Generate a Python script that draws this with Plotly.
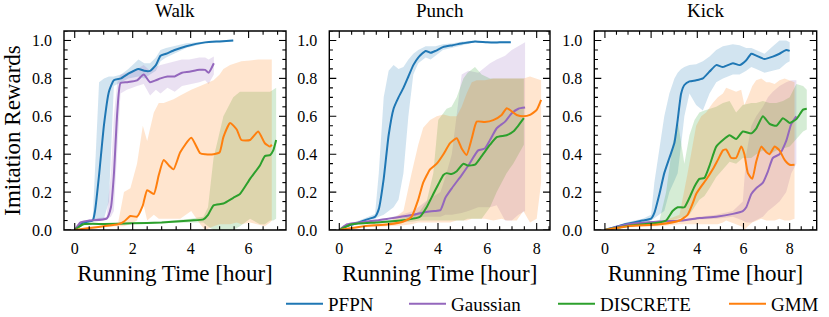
import plotly.graph_objects as go

# ---------------- DATA ----------------
panels = ["Walk", "Punch", "Kick"]
methods = ["PFPN", "Gaussian", "DISCRETE", "GMM"]
colors = {"PFPN": "31,119,180", "Gaussian": "148,103,189", "DISCRETE": "44,160,44", "GMM": "255,127,14"}

# Walk
walk_pfpn_x = [0, 0.3, 0.62, 0.7, 0.84, 1.01, 1.18, 1.35, 1.6, 1.85, 2.2, 2.4, 2.6, 2.8, 2.96, 3.15, 3.45, 3.85, 4.5, 5.0, 5.47]
walk_pfpn_y = [0, 0.04, 0.05, 0.1, 0.29, 0.555, 0.73, 0.79, 0.80, 0.825, 0.85, 0.84, 0.84, 0.87, 0.92, 0.93, 0.95, 0.97, 0.99, 0.995, 1.0]
walk_pfpn_lo = [0, 0.035, 0.045, 0.05, 0.05, 0.06, 0.15, 0.76, 0.78, 0.80, 0.81, 0.80, 0.82, 0.84, 0.89, 0.91, 0.93, 0.96, 0.985, 0.99, 0.995]
walk_pfpn_hi = [0, 0.045, 0.055, 0.35, 0.78, 0.80, 0.81, 0.81, 0.82, 0.85, 0.90, 0.88, 0.88, 0.91, 0.95, 0.96, 0.97, 0.985, 0.995, 1.0, 1.005]

walk_gauss_x = [0, 0.2, 0.5, 1.1, 1.25, 1.35, 1.47, 1.58, 1.8, 2.15, 2.38, 2.6, 2.8, 2.96, 3.2, 3.45, 3.7, 3.95, 4.3, 4.5, 4.62, 4.8]
walk_gauss_y = [0, 0.04, 0.05, 0.06, 0.12, 0.29, 0.625, 0.775, 0.78, 0.79, 0.82, 0.78, 0.79, 0.80, 0.81, 0.81, 0.83, 0.835, 0.845, 0.845, 0.83, 0.88]
walk_gauss_lo = [0, 0.035, 0.045, 0.055, 0.07, 0.1, 0.4, 0.72, 0.74, 0.76, 0.77, 0.71, 0.74, 0.72, 0.75, 0.73, 0.76, 0.77, 0.78, 0.79, 0.77, 0.82]
walk_gauss_hi = [0, 0.045, 0.055, 0.07, 0.3, 0.6, 0.78, 0.82, 0.83, 0.85, 0.87, 0.84, 0.86, 0.87, 0.88, 0.89, 0.90, 0.90, 0.91, 0.91, 0.90, 0.915]

walk_disc_x = [0, 0.3, 1.0, 2.0, 3.0, 4.0, 4.44, 4.6, 4.79, 5.13, 5.47, 5.7, 6.05, 6.39, 6.56, 6.74, 6.85, 6.95]
walk_disc_y = [0, 0.03, 0.032, 0.035, 0.04, 0.05, 0.056, 0.08, 0.13, 0.14, 0.17, 0.19, 0.27, 0.34, 0.39, 0.395, 0.42, 0.475]
walk_disc_lo = [0, 0.025, 0.028, 0.03, 0.035, 0.04, 0.04, 0.02, 0.0, 0.0, 0.0, 0.02, 0.06, 0.03, 0.03, 0.05, 0.05, 0.06]
walk_disc_hi = [0, 0.035, 0.036, 0.04, 0.045, 0.06, 0.07, 0.12, 0.38, 0.6, 0.7, 0.73, 0.73, 0.73, 0.73, 0.73, 0.74, 0.75]

walk_gmm_x = [0, 0.5, 1.0, 1.5, 1.7, 1.92, 2.15, 2.35, 2.5, 2.73, 2.9, 3.07, 3.25, 3.41, 3.64, 4.02, 4.33, 4.5, 4.79, 5.0, 5.13, 5.36, 5.59, 5.75, 6.05, 6.33, 6.56, 6.74, 6.8]
walk_gmm_y = [0, 0.01, 0.02, 0.03, 0.044, 0.074, 0.07, 0.13, 0.21, 0.19, 0.29, 0.37, 0.34, 0.32, 0.41, 0.487, 0.405, 0.40, 0.40, 0.41, 0.49, 0.565, 0.53, 0.475, 0.475, 0.52, 0.458, 0.44, 0.45]
walk_gmm_lo = [0, 0.005, 0.015, 0.02, 0.02, 0.03, 0.05, 0.15, 0.05, 0.08, 0.06, 0.06, 0.06, 0.06, 0.06, 0.1, 0.03, 0.0, 0.02, 0.03, 0.03, 0.03, 0.04, 0.03, 0.04, 0.03, 0.02, 0.04, 0.05]
walk_gmm_hi = [0, 0.015, 0.025, 0.04, 0.2, 0.22, 0.35, 0.55, 0.47, 0.62, 0.67, 0.67, 0.68, 0.69, 0.71, 0.74, 0.76, 0.77, 0.79, 0.82, 0.85, 0.87, 0.88, 0.89, 0.895, 0.9, 0.9, 0.9, 0.9]

# Punch
punch_pfpn_x = [0, 0.3, 0.7, 1.1, 1.45, 1.6, 1.8, 2.0, 2.2, 2.4, 2.6, 2.8, 3.0, 3.2, 3.5, 3.7, 3.9, 4.2, 4.6, 5.0, 5.5, 6.0, 6.5, 6.95]
punch_pfpn_y = [0, 0.02, 0.035, 0.055, 0.07, 0.11, 0.27, 0.50, 0.64, 0.70, 0.75, 0.81, 0.87, 0.91, 0.945, 0.935, 0.945, 0.965, 0.975, 0.985, 0.995, 0.99, 0.99, 0.99]
punch_pfpn_lo = [0, 0.015, 0.03, 0.05, 0.06, 0.07, 0.08, 0.10, 0.12, 0.16, 0.30, 0.60, 0.82, 0.88, 0.91, 0.90, 0.92, 0.95, 0.965, 0.975, 0.99, 0.985, 0.985, 0.985]
punch_pfpn_hi = [0, 0.025, 0.045, 0.065, 0.085, 0.30, 0.70, 0.84, 0.87, 0.85, 0.86, 0.90, 0.93, 0.95, 0.97, 0.97, 0.97, 0.98, 0.985, 0.995, 1.0, 0.995, 0.995, 0.995]

punch_gauss_x = [0, 0.3, 0.8, 1.5, 2.0, 2.5, 3.0, 3.5, 3.85, 4.1, 4.3, 4.56, 4.96, 5.23, 5.63, 5.9, 6.11, 6.38, 6.72, 6.99, 7.26, 7.53]
punch_gauss_y = [0, 0.03, 0.04, 0.05, 0.06, 0.07, 0.08, 0.095, 0.10, 0.105, 0.17, 0.22, 0.29, 0.34, 0.42, 0.43, 0.475, 0.537, 0.572, 0.616, 0.64, 0.646]
punch_gauss_lo = [0, 0.025, 0.035, 0.045, 0.055, 0.06, 0.065, 0.07, 0.07, 0.07, 0.08, 0.08, 0.09, 0.1, 0.12, 0.12, 0.12, 0.13, 0.05, 0.05, 0.08, 0.1]
punch_gauss_hi = [0, 0.035, 0.045, 0.055, 0.065, 0.08, 0.10, 0.15, 0.18, 0.2, 0.28, 0.4, 0.82, 0.84, 0.83, 0.86, 0.88, 0.9, 0.92, 0.95, 0.97, 0.99]

punch_disc_x = [0, 0.5, 1.5, 2.5, 3.0, 3.27, 3.54, 3.81, 4.01, 4.22, 4.35, 4.55, 4.76, 5.03, 5.2, 5.5, 5.77, 6.11, 6.38, 6.78, 7.05, 7.25, 7.48]
punch_disc_y = [0, 0.03, 0.04, 0.05, 0.06, 0.07, 0.12, 0.19, 0.24, 0.29, 0.30, 0.295, 0.31, 0.35, 0.34, 0.345, 0.39, 0.45, 0.49, 0.50, 0.52, 0.55, 0.59]
punch_disc_lo = [0, 0.025, 0.035, 0.04, 0.045, 0.05, 0.05, 0.05, 0.05, 0.05, 0.05, 0.05, 0.05, 0.05, 0.06, 0.06, 0.06, 0.12, 0.2, 0.3, 0.35, 0.4, 0.45]
punch_disc_hi = [0, 0.035, 0.045, 0.06, 0.08, 0.1, 0.15, 0.3, 0.58, 0.62, 0.64, 0.65, 0.7, 0.8, 0.83, 0.86, 0.82, 0.8, 0.8, 0.8, 0.8, 0.8, 0.8]

punch_gmm_x = [0, 1.0, 2.0, 2.6, 2.93, 3.2, 3.4, 3.68, 3.95, 4.22, 4.49, 4.76, 4.96, 5.16, 5.37, 5.57, 5.9, 6.24, 6.58, 6.79, 7.19, 7.46, 7.73, 8.0, 8.18]
punch_gmm_y = [0, 0.02, 0.03, 0.045, 0.07, 0.16, 0.25, 0.32, 0.35, 0.40, 0.458, 0.484, 0.43, 0.396, 0.484, 0.572, 0.57, 0.58, 0.607, 0.643, 0.607, 0.60, 0.607, 0.634, 0.687]
punch_gmm_lo = [0, 0.015, 0.02, 0.025, 0.03, 0.04, 0.04, 0.04, 0.04, 0.04, 0.04, 0.05, 0.05, 0.05, 0.06, 0.06, 0.06, 0.05, 0.06, 0.05, 0.05, 0.1, 0.04, 0.06, 0.25]
punch_gmm_hi = [0, 0.025, 0.04, 0.1, 0.3, 0.45, 0.54, 0.58, 0.6, 0.61, 0.6, 0.6, 0.65, 0.72, 0.78, 0.79, 0.79, 0.8, 0.8, 0.8, 0.8, 0.8, 0.81, 0.8, 0.79]

# Kick
kick_pfpn_x = [0, 0.91, 1.63, 2.0, 2.14, 2.36, 2.57, 2.79, 3.01, 3.15, 3.3, 3.44, 3.66, 3.95, 4.24, 4.53, 4.82, 5.11, 5.54, 5.83, 6.12, 6.34, 6.55, 6.91, 7.27, 7.56, 7.85, 8.0]
kick_pfpn_y = [0, 0.032, 0.05, 0.06, 0.09, 0.19, 0.30, 0.38, 0.46, 0.58, 0.72, 0.765, 0.784, 0.79, 0.80, 0.836, 0.87, 0.86, 0.88, 0.87, 0.896, 0.93, 0.92, 0.902, 0.915, 0.93, 0.95, 0.945]
kick_pfpn_lo = [0, 0.025, 0.04, 0.05, 0.06, 0.08, 0.1, 0.2, 0.26, 0.3, 0.45, 0.6, 0.72, 0.66, 0.63, 0.72, 0.78, 0.8, 0.82, 0.82, 0.84, 0.86, 0.85, 0.83, 0.84, 0.85, 0.88, 0.89]
kick_pfpn_hi = [0, 0.04, 0.06, 0.08, 0.25, 0.42, 0.6, 0.72, 0.8, 0.83, 0.85, 0.86, 0.87, 0.875, 0.89, 0.915, 0.95, 0.97, 0.98, 0.975, 0.96, 0.96, 0.95, 0.93, 0.97, 1.0, 1.0, 0.99]

kick_gauss_x = [0, 1.0, 2.36, 3.37, 4.09, 4.82, 5.54, 5.97, 6.12, 6.34, 6.55, 6.84, 7.06, 7.27, 7.56, 7.85, 8.07, 8.29]
kick_gauss_y = [0, 0.03, 0.045, 0.05, 0.063, 0.07, 0.085, 0.10, 0.12, 0.19, 0.22, 0.25, 0.31, 0.38, 0.40, 0.47, 0.56, 0.60]
kick_gauss_lo = [0, 0.025, 0.04, 0.045, 0.055, 0.06, 0.07, 0.05, 0.04, 0.04, 0.05, 0.07, 0.1, 0.12, 0.15, 0.2, 0.3, 0.35]
kick_gauss_hi = [0, 0.035, 0.05, 0.055, 0.07, 0.08, 0.1, 0.15, 0.4, 0.55, 0.6, 0.65, 0.7, 0.73, 0.76, 0.78, 0.79, 0.79]

kick_disc_x = [0, 0.9, 2.36, 2.65, 2.93, 3.15, 3.44, 3.66, 3.88, 4.09, 4.31, 4.53, 4.82, 5.11, 5.4, 5.68, 5.97, 6.34, 6.55, 6.84, 7.13, 7.42, 7.71, 8.0, 8.29, 8.58, 8.74]
kick_disc_y = [0, 0.02, 0.04, 0.05, 0.10, 0.12, 0.12, 0.17, 0.23, 0.27, 0.275, 0.34, 0.44, 0.475, 0.50, 0.48, 0.52, 0.51, 0.535, 0.60, 0.56, 0.55, 0.59, 0.565, 0.585, 0.635, 0.64]
kick_disc_lo = [0, 0.015, 0.03, 0.04, 0.05, 0.06, 0.07, 0.08, 0.12, 0.16, 0.18, 0.22, 0.28, 0.32, 0.36, 0.35, 0.38, 0.38, 0.40, 0.42, 0.40, 0.42, 0.43, 0.44, 0.48, 0.52, 0.53]
kick_disc_hi = [0, 0.025, 0.05, 0.2, 0.45, 0.58, 0.35, 0.5, 0.58, 0.62, 0.63, 0.64, 0.65, 0.67, 0.68, 0.62, 0.66, 0.67, 0.67, 0.68, 0.67, 0.67, 0.68, 0.7, 0.77, 0.76, 0.74]

kick_gmm_x = [0, 1.0, 2.36, 3.23, 3.58, 3.8, 3.95, 4.17, 4.38, 4.67, 4.89, 5.11, 5.25, 5.47, 5.68, 5.9, 6.04, 6.19, 6.38, 6.55, 6.77, 6.99, 7.13, 7.35, 7.56, 7.78, 8.0, 8.21]
kick_gmm_y = [0, 0.02, 0.03, 0.05, 0.08, 0.14, 0.19, 0.23, 0.265, 0.32, 0.37, 0.42, 0.425, 0.38, 0.38, 0.44, 0.40, 0.30, 0.27, 0.36, 0.44, 0.41, 0.40, 0.44, 0.42, 0.37, 0.344, 0.344]
kick_gmm_lo = [0, 0.015, 0.02, 0.03, 0.03, 0.03, 0.03, 0.03, 0.03, 0.03, 0.03, 0.04, 0.05, 0.04, 0.03, 0.02, 0.0, 0.02, 0.04, 0.05, 0.06, 0.05, 0.05, 0.05, 0.06, 0.05, 0.05, 0.06]
kick_gmm_hi = [0, 0.025, 0.04, 0.08, 0.3, 0.45, 0.55, 0.6, 0.62, 0.67, 0.7, 0.72, 0.75, 0.74, 0.73, 0.74, 0.66, 0.7, 0.76, 0.79, 0.8, 0.78, 0.78, 0.77, 0.79, 0.8, 0.79, 0.78]

x_ranges = [[-0.37, 7.29], [-0.405, 8.54], [-0.46, 9.17]]
y_range = [0, 1.05]
x_tickvals = [[0, 2, 4, 6], [0, 2, 4, 6, 8], [0, 2, 4, 6, 8]]
y_tickvals = [0.0, 0.2, 0.4, 0.6, 0.8, 1.0]
y_ticktext = ["0.0", "0.2", "0.4", "0.6", "0.8", "1.0"]
x_minor_step = 0.5
y_minor_step = 0.05

series = {
    "Walk": {
        "PFPN": (walk_pfpn_x, walk_pfpn_y, walk_pfpn_lo, walk_pfpn_hi),
        "Gaussian": (walk_gauss_x, walk_gauss_y, walk_gauss_lo, walk_gauss_hi),
        "DISCRETE": (walk_disc_x, walk_disc_y, walk_disc_lo, walk_disc_hi),
        "GMM": (walk_gmm_x, walk_gmm_y, walk_gmm_lo, walk_gmm_hi),
    },
    "Punch": {
        "PFPN": (punch_pfpn_x, punch_pfpn_y, punch_pfpn_lo, punch_pfpn_hi),
        "Gaussian": (punch_gauss_x, punch_gauss_y, punch_gauss_lo, punch_gauss_hi),
        "DISCRETE": (punch_disc_x, punch_disc_y, punch_disc_lo, punch_disc_hi),
        "GMM": (punch_gmm_x, punch_gmm_y, punch_gmm_lo, punch_gmm_hi),
    },
    "Kick": {
        "PFPN": (kick_pfpn_x, kick_pfpn_y, kick_pfpn_lo, kick_pfpn_hi),
        "Gaussian": (kick_gauss_x, kick_gauss_y, kick_gauss_lo, kick_gauss_hi),
        "DISCRETE": (kick_disc_x, kick_disc_y, kick_disc_lo, kick_disc_hi),
        "GMM": (kick_gmm_x, kick_gmm_y, kick_gmm_lo, kick_gmm_hi),
    },
}

# ---------------- LAYOUT ----------------
W, H = 829, 317
FONT = "Liberation Serif, DejaVu Serif, serif"
x_domains = [[64 / W, 286 / W], [329.3 / W, 550 / W], [594.3 / W, 816.7 / W]]
y_domain = [1 - 230 / H, 1 - 31 / H]
legend_names = ["legend", "legend2", "legend3", "legend4"]
legend_x = [281, 404, 553, 724]
MAJOR_LEN, MINOR_LEN = 5, 2.6

fig = go.Figure()


def tick_marks(xa, ya, xs, ys, symbol, length):
    fig.add_trace(go.Scatter(
        x=xs, y=ys, mode="markers", cliponaxis=True,
        marker=dict(symbol=symbol, size=2 * length, color="black",
                    line=dict(color="black", width=1.1)),
        showlegend=False, hoverinfo="skip", xaxis=xa, yaxis=ya))


for i, p in enumerate(panels):
    xa = "x" if i == 0 else f"x{i+1}"
    ya = "y" if i == 0 else f"y{i+1}"
    for m in methods:
        xs, ys, lo, hi = series[p][m]
        fig.add_trace(go.Scatter(
            x=list(xs) + list(xs)[::-1], y=list(hi) + list(lo)[::-1],
            fill="toself", fillcolor=f"rgba({colors[m]},0.2)",
            line=dict(width=0), mode="lines", hoverinfo="skip",
            showlegend=False, xaxis=xa, yaxis=ya))
    for j, m in enumerate(methods):
        xs, ys, lo, hi = series[p][m]
        fig.add_trace(go.Scatter(
            x=xs, y=ys, mode="lines", name=m,
            line=dict(color=f"rgb({colors[m]})", width=2, shape="spline", smoothing=0.5),
            showlegend=(i == 0), legend=legend_names[j],
            xaxis=xa, yaxis=ya))

    # inward tick marks on all four sides (half of each centred marker is clipped away)
    xr = x_ranges[i]
    xmaj = x_tickvals[i]
    xmin_ = [k * x_minor_step for k in range(int(xr[0] / x_minor_step), int(xr[1] / x_minor_step) + 1)]
    xmin_ = [v for v in xmin_ if v not in xmaj]
    ymaj = y_tickvals
    ymin_ = [round(k * y_minor_step, 3) for k in range(0, int(y_range[1] / y_minor_step) + 1)]
    ymin_ = [v for v in ymin_ if all(abs(v - t) > 1e-9 for t in ymaj)]
    for yedge in y_range:
        tick_marks(xa, ya, xmaj, [yedge] * len(xmaj), "line-ns", MAJOR_LEN)
        tick_marks(xa, ya, xmin_, [yedge] * len(xmin_), "line-ns", MINOR_LEN)
    for xedge in xr:
        tick_marks(xa, ya, [xedge] * len(ymaj), ymaj, "line-ew", MAJOR_LEN)
        tick_marks(xa, ya, [xedge] * len(ymin_), ymin_, "line-ew", MINOR_LEN)

tick_font = dict(family=FONT, size=16, color="black")
title_font = dict(family=FONT, size=23, color="black")

layout_axes = {}
for i, p in enumerate(panels):
    n = i + 1
    sx = "" if n == 1 else str(n)
    layout_axes[f"xaxis{sx}"] = dict(
        domain=x_domains[i], range=x_ranges[i], anchor=f"y{sx}",
        showgrid=False, zeroline=False, showline=False, ticks="",
        tickmode="array", tickvals=x_tickvals[i], ticktext=[str(v) for v in x_tickvals[i]],
        tickfont=tick_font, automargin=False, ticklabelstandoff=7,
        title=dict(text="Running Time [hour]", font=title_font, standoff=8),
    )
    layout_axes[f"yaxis{sx}"] = dict(
        domain=y_domain, range=y_range, anchor=f"x{sx}",
        showgrid=False, zeroline=False, showline=False, ticks="",
        tickmode="array", tickvals=y_tickvals, ticktext=y_ticktext, ticksuffix=" ",
        tickfont=tick_font, automargin=False, ticklabelstandoff=11,
        title=dict(text="Imitation Rewards" if i == 0 else "",
                   font=dict(family=FONT, size=23, color="black"), standoff=12),
    )
    fig.add_shape(type="rect", xref=f"x{sx} domain", yref=f"y{sx} domain",
                  x0=0, x1=1, y0=0, y1=1, line=dict(color="black", width=1.4),
                  fillcolor="rgba(0,0,0,0)", layer="above")

fig.update_layout(**layout_axes)

for i, p in enumerate(panels):
    fig.add_annotation(
        text=p, x=(x_domains[i][0] + x_domains[i][1]) / 2, y=1 - 10 / H,
        xref="paper", yref="paper", xanchor="center", yanchor="middle",
        showarrow=False, font=dict(family=FONT, size=19, color="black"))

legend_common = dict(orientation="h", yanchor="middle", y=1 - 304 / H, xanchor="left",
                     font=dict(family=FONT, size=19, color="black"), bgcolor="rgba(0,0,0,0)",
                     borderwidth=0, itemwidth=37)
for k, ln in enumerate(legend_names):
    fig.layout[ln] = dict(legend_common, x=legend_x[k] / W)

fig.update_layout(
    width=W, height=H, margin=dict(l=0, r=0, t=0, b=0, autoexpand=False),
    paper_bgcolor="white", plot_bgcolor="white",
    font=dict(family=FONT, color="black"),
    template="none",
)

fig.write_html("out.html", config={"displayModeBar": False},
               post_script="document.body.style.margin='0px';")
